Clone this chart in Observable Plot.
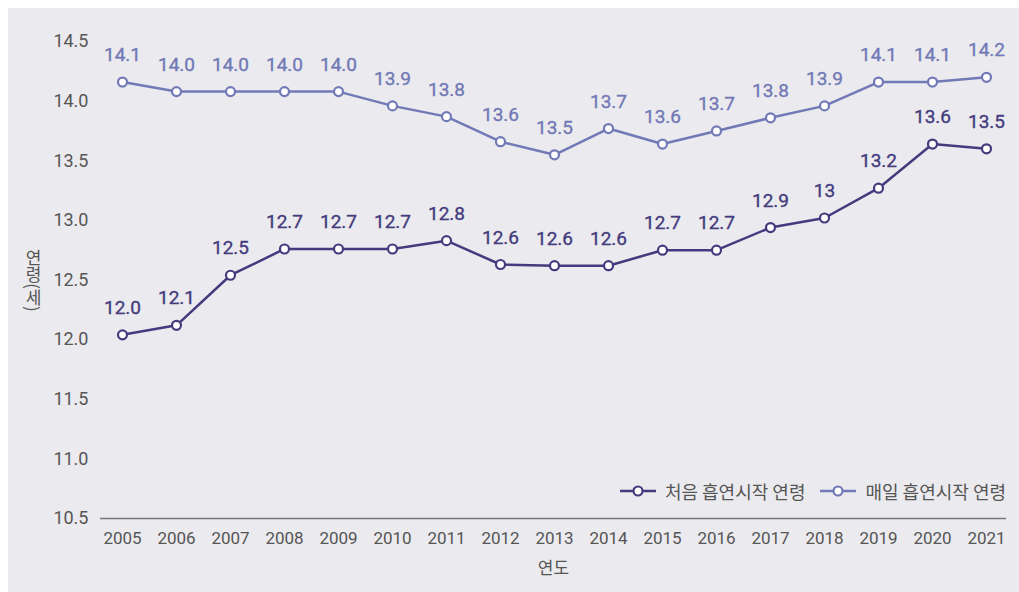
<!DOCTYPE html>
<html><head><meta charset="utf-8">
<script src="https://cdn.jsdelivr.net/npm/d3@7"></script>
<script src="https://cdn.jsdelivr.net/npm/@observablehq/plot@0.6"></script>
<style>
html,body{margin:0;padding:0;background:#fff;}
#wrap{position:relative;width:1019px;height:592px;overflow:hidden;font-family:Roboto,"Noto Sans CJK KR",sans-serif;}
#panel{position:absolute;left:8px;top:8px;right:0;bottom:0;background:#ebeaee;}
#chart{position:absolute;left:0;top:0;}
#legend{position:absolute;top:478px;right:13px;display:flex;align-items:center;gap:14px;font-family:"Noto Sans CJK KR",sans-serif;font-size:18px;color:#555;}
#legend span{display:flex;align-items:center;gap:8px;}
</style></head>
<body><div id="wrap"><div id="panel"></div><div id="chart"></div><div id="legend"></div></div>
<script>
const years = ["2005","2006","2007","2008","2009","2010","2011","2012","2013","2014","2015","2016","2017","2018","2019","2020","2021"];
const firstAge = [12.04,12.12,12.54,12.76,12.76,12.76,12.83,12.63,12.62,12.62,12.75,12.75,12.94,13.02,13.27,13.64,13.60];
const firstLabels = ["12.0","12.1","12.5","12.7","12.7","12.7","12.8","12.6","12.6","12.6","12.7","12.7","12.9","13","13.2","13.6","13.5"];
const dailyAge = [14.16,14.08,14.08,14.08,14.08,13.96,13.87,13.66,13.55,13.77,13.64,13.75,13.86,13.96,14.16,14.16,14.20];
const dailyLabels = ["14.1","14.0","14.0","14.0","14.0","13.9","13.8","13.6","13.5","13.7","13.6","13.7","13.8","13.9","14.1","14.1","14.2"];
const seriesNames = ["처음 흡연시작 연령","매일 흡연시작 연령"];
const colors = ["#433b7d","#7179b6"];
const yTicks = [10.5,11.0,11.5,12.0,12.5,13.0,13.5,14.0,14.5];

const data = [];
years.forEach((y,i)=>{
  data.push({year:y, value:firstAge[i], label:firstLabels[i], series:seriesNames[0]});
  data.push({year:y, value:dailyAge[i], label:dailyLabels[i], series:seriesNames[1]});
});

const chart = Plot.plot({
  width:1019, height:592,
  marginLeft:100, marginRight:13, marginTop:41, marginBottom:74,
  style:{background:"transparent", fontFamily:"Roboto, 'Noto Sans CJK KR', sans-serif"},
  x:{type:"point", domain:years, padding:0, insetLeft:20, insetRight:19, label:null},
  y:{domain:[10.5,14.5], label:null},
  color:{domain:seriesNames, range:colors},
  marks:[
    Plot.axisY({ticks:yTicks, tickFormat:d=>d.toFixed(1), tickSize:0, tickPadding:12, fontSize:18, color:"#555", label:null}),
    Plot.axisX({tickSize:0, tickPadding:13, fontSize:17, color:"#555", label:null}),
    Plot.ruleY([10.5],{stroke:"#777", strokeWidth:1.3}),
    Plot.line(data,{x:"year", y:"value", z:"series", stroke:"series", strokeWidth:2.5}),
    Plot.dot(data,{x:"year", y:"value", stroke:"series", fill:"white", r:4.5, strokeWidth:2.2}),
    Plot.text(data,{x:"year", y:"value", text:"label", fill:"series", dy:-27, fontSize:19, fontWeight:400, stroke:"series", strokeWidth:0.35}),
    Plot.text(["연령(세)"],{frameAnchor:"left", textAnchor:"middle", dx:-67, dy:-5, fontSize:17, fill:"#555", fontFamily:"'Noto Sans CJK KR', sans-serif"}),
    Plot.text(["연도"],{frameAnchor:"bottom", dy:55, fontSize:17, fill:"#555", fontFamily:"'Noto Sans CJK KR', sans-serif"})
  ]
});
document.getElementById("chart").appendChild(chart);
d3.select(chart).selectAll("text").filter(function(){return this.textContent==="연령(세)";})
  .style("writing-mode","vertical-rl").attr("dy",null);

const legend = document.getElementById("legend");
seriesNames.forEach((n,i)=>{
  const s = document.createElement("span");
  s.innerHTML = `<svg width="38" height="14"><line x1="1" y1="7" x2="37" y2="7" stroke="${colors[i]}" stroke-width="2.5"/><circle cx="19" cy="7" r="4.5" fill="white" stroke="${colors[i]}" stroke-width="2.2"/></svg>${n}`;
  legend.appendChild(s);
});
</script></body></html>
